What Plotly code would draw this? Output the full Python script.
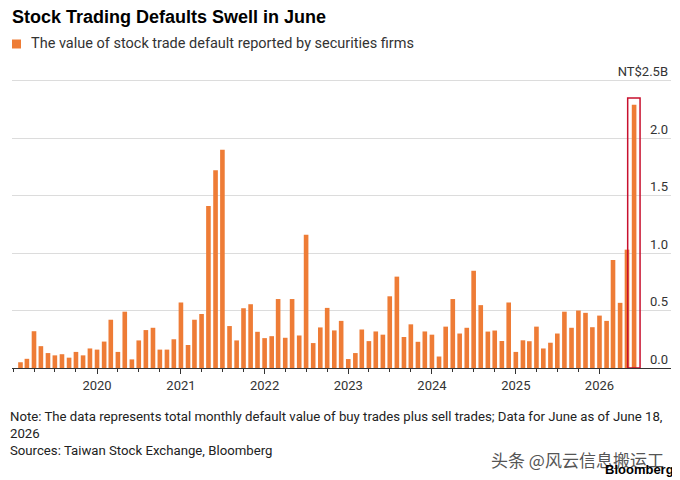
import pandas as pd
import plotly.graph_objects as go

# monthly default value, NT$ billions
vals_2019 = [0.05, 0.08, 0.32, 0.19, 0.13, 0.11, 0.12, 0.09, 0.14, 0.11, 0.17]  # Feb-Dec
vals_2020 = [0.16, 0.23, 0.42, 0.14, 0.49, 0.075, 0.24, 0.33, 0.35, 0.16, 0.16, 0.25]
vals_2021 = [0.57, 0.20, 0.42, 0.47, 1.41, 1.72, 1.90, 0.365, 0.24, 0.52, 0.555, 0.315]
vals_2022 = [0.26, 0.277, 0.60, 0.263, 0.60, 0.283, 1.16, 0.217, 0.353, 0.523, 0.327, 0.41]
vals_2023 = [0.078, 0.13, 0.335, 0.234, 0.318, 0.29, 0.624, 0.795, 0.27, 0.38, 0.228, 0.318]
vals_2024 = [0.29, 0.10, 0.36, 0.60, 0.30, 0.35, 0.846, 0.547, 0.317, 0.326, 0.235, 0.57]
vals_2025 = [0.14, 0.241, 0.233, 0.36, 0.17, 0.22, 0.30, 0.49, 0.35, 0.50, 0.48, 0.355]
vals_2026 = [0.456, 0.41, 0.94, 0.567, 1.03, 2.29]  # Jan-Jun

values = (vals_2019 + vals_2020 + vals_2021 + vals_2022 + vals_2023
          + vals_2024 + vals_2025 + vals_2026)
months = pd.date_range("2019-02-01", periods=len(values), freq="MS")

y_ticks = [0, 0.5, 1.0, 1.5, 2.0, 2.5]
y_labels = ["0.0", "0.5", "1.0", "1.5", "2.0", "NT$2.5B"]
year_ticks = pd.date_range("2020-01-01", "2026-01-01", freq="YS")

ORANGE = "#EE7C36"
W, H = 680, 480
OFF = 8  # the page body adds an 8px margin, so layout is drawn 8px up/left
# plot area in screen pixels: left 12, right 671, top 60, bottom 368
L, R, T, B = 12 - OFF, W - (671 - OFF), 60 - OFF, H - (368 - OFF)


def px_x(px):
    # screen x -> paper fraction
    return (px - OFF - L) / (W - L - R)


def px_y(py):
    return (H - B - (py - OFF)) / (H - T - B)


fig = go.Figure()
fig.add_trace(go.Bar(x=months, y=values, marker_color=ORANGE,
                     marker_line_width=0, showlegend=False))

# red highlight around the latest month
last = months[-1]
fig.add_shape(type="rect", xref="x", yref="y",
              x0=last - pd.Timedelta(days=28), x1=last + pd.Timedelta(days=26),
              y0=0, y1=values[-1] + 0.06,
              line=dict(color="#C8102E", width=1.5), layer="above")

# legend square + text
fig.add_shape(type="rect", xref="paper", yref="paper",
              x0=px_x(12), x1=px_x(21), y0=px_y(48.5), y1=px_y(39.5),
              fillcolor=ORANGE, line_width=0)
fig.add_annotation(text="The value of stock trade default reported by securities firms",
                   xref="paper", yref="paper", x=px_x(29), y=px_y(44),
                   xanchor="left", yanchor="middle", showarrow=False,
                   font=dict(size=14.5, color="#333333", family="Roboto"))

fig.add_annotation(
    text="Note: The data represents total monthly default value of buy trades plus sell trades; Data for June as of June 18,"
         "<br>2026<br>Sources: Taiwan Stock Exchange, Bloomberg",
    xref="paper", yref="paper", x=px_x(8), y=px_y(407),
    xanchor="left", yanchor="top", align="left", showarrow=False,
    font=dict(size=13.2, color="#222222", family="Roboto"))

fig.add_annotation(text="头条 @风云信息搬运工", xref="paper", yref="paper",
                   x=px_x(666), y=px_y(459), xanchor="right", yanchor="middle",
                   showarrow=False,
                   font=dict(size=17, color="#555555", family="Noto Sans CJK SC"))
fig.add_annotation(text="<b>Bloomberg</b>", xref="paper", yref="paper",
                   x=px_x(676), y=px_y(469), xanchor="right", yanchor="middle",
                   showarrow=False,
                   font=dict(size=13, color="#000000", family="Liberation Sans"))

fig.update_layout(
    width=W, height=H,
    margin=dict(l=L, r=R, t=T, b=B),
    paper_bgcolor="white", plot_bgcolor="white",
    bargap=0.28,
    title=dict(text="<b>Stock Trading Defaults Swell in June</b>",
               x=(12 - OFF) / W, xanchor="left", y=1 - (17 - OFF) / H, yanchor="middle",
               font=dict(size=18, color="#000000", family="Liberation Sans")),
    font=dict(family="Roboto", color="#333333"),
    xaxis=dict(type="date", range=["2018-12-26", "2026-11-09"],
               tickvals=list(year_ticks), tickformat="%Y",
               ticks="outside", ticklen=5, tickcolor="#333333",
               showline=True, linecolor="#333333", linewidth=1,
               showgrid=False, tickfont=dict(size=13, color="#333333"),
               minor=dict(tick0="2019-01-01", dtick="M3", ticks="outside",
                          ticklen=3, tickcolor="#333333", showgrid=False)),
    yaxis=dict(side="right", range=[0, 2.68], tickvals=y_ticks, ticktext=y_labels,
               ticklabelposition="inside", ticklabelshift=-9,
               showgrid=True, gridcolor="#dcdcdc", gridwidth=1,
               zeroline=False, ticks="", tickfont=dict(size=13, color="#333333")),
)

fig.write_html("out.html")
